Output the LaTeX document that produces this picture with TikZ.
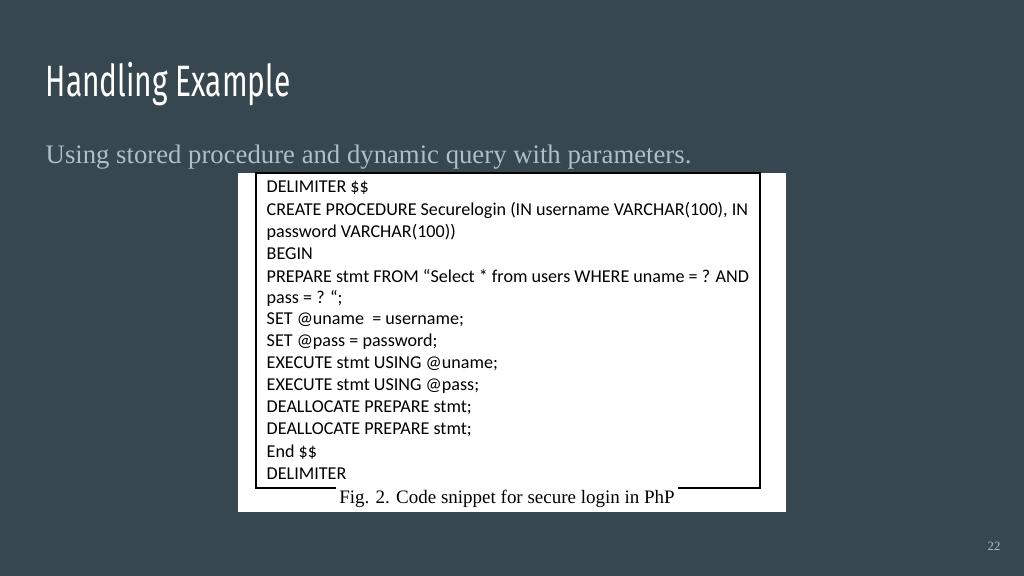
\documentclass[tikz,border=0pt]{standalone}
\usepackage{fontspec}
\setmainfont{Liberation Serif}
\newfontfamily\codefont{Carlito}
\newfontfamily\titlefont{Fira Sans}
\newfontfamily\subfont{Liberation Serif}
\definecolor{bg}{HTML}{37474F}
\definecolor{subc}{HTML}{B0BEC5}
\tikzset{codeline/.style={anchor=west,inner sep=0pt,font=\codefont\fontsize{5.15}{6}\selectfont,text=black}}
\begin{document}
\begin{tikzpicture}[x=0.01cm,y=-0.01cm]
\fill[bg] (0,0) rectangle (1024,576);
\useasboundingbox (0,0) rectangle (1024,576);
\node[anchor=base west,inner sep=0pt,text=white] (title) at (45,97) {\scalebox{0.68}[1]{\titlefont\fontsize{12.5}{14}\selectfont Handling Example}};
\node[anchor=base west,inner sep=0pt,text=subc,font=\subfont\fontsize{7.6}{8}\selectfont] (sub) at (45,164) {Using stored procedure and dynamic query with parameters.};
\fill[white] (238,173) rectangle (786,512);
\draw[black,line width=0.3pt] (256,173) rectangle (760,488);
\foreach \t [count=\i] in {DELIMITER \$\$,
 CREATE PROCEDURE Securelogin (IN username VARCHAR(100){,} IN,
 password VARCHAR(100)),
 BEGIN,
 PREPARE stmt FROM “Select * from users WHERE uname = ? AND,
 pass = ? “;,
 SET @uname\ \ = username;,
 SET @pass = password;,
 EXECUTE stmt USING @uname;,
 EXECUTE stmt USING @pass;,
 DEALLOCATE PREPARE stmt;,
 DEALLOCATE PREPARE stmt;,
 End \$\$,
 DELIMITER}
 \node[codeline] (c\i) at (266,{188+22*(\i-1)}) {\t};
\node[fill=white,inner sep=1pt,font=\fontsize{5.4}{6}\selectfont] (cap) at (507,499) {Fig. 2. Code snippet for secure login in PhP};
\node[text=subc,font=\subfont\fontsize{3.6}{4}\selectfont] (pg) at (994,546) {22};
\end{tikzpicture}
\end{document}
